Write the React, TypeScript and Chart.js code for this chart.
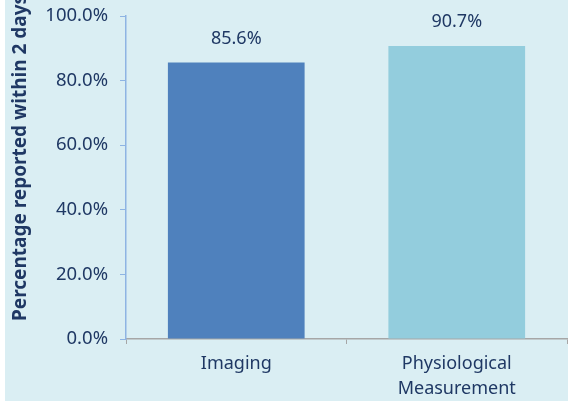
import React, { useEffect, useRef } from "react";
import { Chart, registerables } from "chart.js";

Chart.register(...registerables);

const categories: (string | string[])[] = ["Imaging", ["Physiological", "Measurement"]];
const values: number[] = [85.6, 90.7];
const barColors: string[] = ["#4F81BD", "#93CDDD"];
const yTickValues: number[] = [0, 20, 40, 60, 80, 100];
const yTitle = "Percentage reported within 2 days";

const TEXT = "#1F3864";
const FONT = "'Noto Sans', sans-serif";

const labelPlugin = {
  id: "barLabels",
  afterDatasetsDraw(chart: any) {
    const ctx = chart.ctx;
    const meta = chart.getDatasetMeta(0);
    ctx.save();
    ctx.fillStyle = TEXT;
    ctx.font = `18px ${FONT}`;
    ctx.textAlign = "center";
    ctx.textBaseline = "middle";
    meta.data.forEach((bar: any, i: number) => {
      ctx.fillText(values[i].toFixed(1) + "%", bar.x, bar.y - 24);
    });
    ctx.restore();
  },
};

// y-axis title, anchored at its start near the bottom of the plot (as in the reference)
const yTitlePlugin = {
  id: "yTitle",
  afterDraw(chart: any) {
    const ctx = chart.ctx;
    ctx.save();
    ctx.fillStyle = TEXT;
    ctx.font = `bold 19px ${FONT}`;
    ctx.translate(16, 321);
    ctx.rotate(-Math.PI / 2);
    ctx.textAlign = "left";
    ctx.textBaseline = "middle";
    ctx.fillText(yTitle, 0, 0);
    ctx.restore();
  },
};

export default function App() {
  const ref = useRef<HTMLCanvasElement | null>(null);
  useEffect(() => {
    if (!ref.current) return;
    const chart = new Chart(ref.current, {
      type: "bar",
      data: {
        labels: categories,
        datasets: [
          {
            data: values,
            backgroundColor: barColors,
            borderWidth: 0,
            barPercentage: 0.62,
            categoryPercentage: 1,
          },
        ],
      },
      options: {
        animation: false,
        responsive: false,
        maintainAspectRatio: false,
        layout: { padding: { top: 16, right: 1, left: 0, bottom: 0 } },
        plugins: { legend: { display: false }, tooltip: { enabled: false } },
        scales: {
          x: {
            grid: { drawOnChartArea: false, color: "#A6A6A6", tickLength: 5, offset: true },
            border: { color: "#A6A6A6", width: 1.5 },
            ticks: {
              color: TEXT,
              font: { family: FONT, size: 18, lineHeight: 1.4 },
              padding: 7,
              maxRotation: 0,
              autoSkip: false,
            },
            afterFit: (s: any) => {
              s.height = 62;
              s.paddingLeft = 0;
              s.paddingRight = 0;
            },
          },
          y: {
            min: 0,
            max: 100,
            afterBuildTicks: (s: any) => {
              s.ticks = yTickValues.map((v) => ({ value: v }));
            },
            grid: { drawOnChartArea: false, color: "#8EB4E3", tickLength: 6 },
            border: { color: "#8EB4E3", width: 1.5 },
            ticks: {
              color: TEXT,
              font: { family: FONT, size: 18.5 },
              padding: 12,
              callback: (v: any) => Number(v).toFixed(1) + "%",
            },
            title: { display: false },
            afterFit: (s: any) => {
              s.width = 121;
              s.paddingTop = 0;
              s.paddingBottom = 0;
            },
          },
        },
      },
      plugins: [labelPlugin, yTitlePlugin],
    });
    return () => chart.destroy();
  }, []);
  return (
    <div
      style={{
        position: "fixed",
        left: 5,
        top: 0,
        width: 563,
        height: 401,
        background: "#DAEEF3",
      }}
    >
      <canvas ref={ref} width={563} height={401} style={{ width: 563, height: 401, display: "block" }} />
    </div>
  );
}
